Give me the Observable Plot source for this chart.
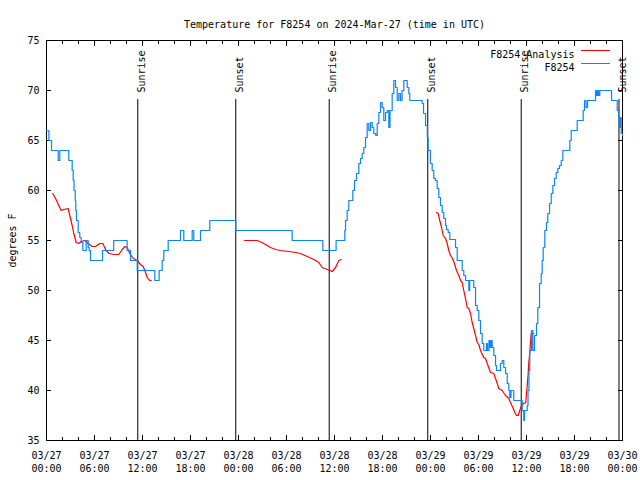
<!DOCTYPE html>
<html><head><meta charset="utf-8">
<script src="https://cdn.jsdelivr.net/npm/d3@7"></script>
<script src="https://cdn.jsdelivr.net/npm/@observablehq/plot@0.6"></script>
<style>body{margin:0;background:#fff}</style>
</head><body><div id="chart"></div>
<script>
const title = "Temperature for F8254 on 2024-Mar-27 (time in UTC)";
const yLabel = "degrees F";
const startUTC = "2024-03-27T00:00:00Z";
const seriesNames = ["F8254 Analysis", "F8254"];
const yTicks = [35, 40, 45, 50, 55, 60, 65, 70, 75];

// F8254 observations: hours after start, degrees F
const obsHours = [0.00,0.30,0.63,1.46,1.66,2.79,3.21,3.34,3.44,3.59,3.66,3.75,3.96,4.16,4.34,4.54,4.96,5.21,5.34,5.50,
  7.00,8.40,10.08,10.50,11.34,13.54,14.08,14.46,14.66,15.21,16.75,17.16,18.21,18.41,19.25,20.41,23.66,30.71,34.54,36.20,
  37.29,37.38,37.58,37.79,38.29,38.50,38.75,39.04,39.25,39.46,39.66,39.88,40.09,40.29,40.50,40.71,40.91,41.16,41.34,41.54,
  41.75,41.96,42.16,42.38,42.59,42.79,42.94,43.21,43.41,43.63,43.84,44.04,44.25,44.44,44.66,45.09,45.29,45.41,46.96,47.13,
  47.38,47.60,47.70,47.99,48.21,48.41,48.63,48.84,49.04,49.25,49.46,49.66,49.88,50.00,50.21,50.41,51.13,51.34,51.96,52.16,
  52.38,52.79,52.90,53.41,53.63,53.84,54.04,54.25,54.46,54.66,55.00,55.13,55.31,55.44,55.56,55.71,55.91,56.13,56.25,56.75,
  56.96,57.16,57.38,57.59,57.79,57.91,58.06,58.41,59.46,59.66,59.75,60.09,60.19,60.31,60.41,60.63,60.79,61.00,61.25,61.41,
  61.63,61.84,61.96,62.09,62.29,62.50,62.66,62.88,63.09,63.29,63.50,63.71,63.91,64.13,64.34,64.54,65.41,65.59,66.34,67.09,
  67.25,67.44,67.63,68.63,68.75,68.88,69.00,69.16,70.63,71.34,71.54,71.63,71.75,71.84,72.00];
const obsTemps = [66,65,64,63,64,63,62,61,60,59,58,57,55.8,55.3,54.8,54,55,54.3,54,53,
  54,55,54,53,52,51,52,53,54,55,56,55,56,55,56,57,56,55,54,55,
  56,57,58,59,60,61,61.7,62.7,63.2,63.7,64.3,65.3,66.7,66,66.8,66.3,65.7,65.5,66.7,67.8,
  68.8,68.3,67,67.8,68,66.3,68,69.7,71,70.3,69,69.7,69,70,71,70.3,69.7,69,68.7,67.7,
  66.5,65.3,64,62.7,62,61.2,61,60.2,59.3,58.5,57.8,57.2,56.5,56.1,55.8,55.1,54.3,53,52,51.5,
  51,50,51,50.3,48.5,48,47,45.7,44.7,44,44.7,44,45,44.3,45,44.3,43.5,42.5,42,42.7,
  43,42.3,41.7,40.7,40,39.3,40,39,38,37,38,38.5,40,42,44,46,44,45.5,46.7,48.3,
  50.7,51.7,53,54.3,56,56.8,57.7,58.7,59.7,60.5,61.2,61.8,62.2,62.5,63,64,65,66,67,68,
  69,68.3,69,70,69.5,70,69.5,70,69,68,67.2,66.3,67.3,65.7,65.5];

// F8254 Analysis: hours after start, degrees F (null = gap)
const anaHours = [0.79,1.13,1.54,1.84,2.16,2.71,2.91,3.21,3.41,3.71,4.04,4.34,4.79,5.21,5.71,6.13,6.66,7.04,7.38,7.79,
  8.41,9.04,9.46,9.79,10.09,10.41,10.84,11.34,11.75,12.09,12.38,12.59,12.88,13.09,18.00,
  24.75,26.34,27.16,28.00,28.63,29.25,30.29,31.13,31.75,32.59,33.41,34.04,34.46,35.09,35.71,36.13,36.54,36.84,42.00,
  48.75,48.96,49.16,49.38,49.59,49.88,50.09,50.29,50.50,50.75,51.00,51.25,51.54,51.75,51.96,52.16,52.38,52.59,52.79,53.00,
  53.21,53.41,53.63,53.84,54.04,54.25,54.66,54.88,55.09,55.50,55.91,56.13,56.34,56.54,56.96,57.38,57.79,58.00,58.29,58.54,
  58.75,58.96,59.16,59.38,59.66,59.91,60.09,60.21,60.29,60.41,60.59,60.91];
const anaTemps = [59.7,59.2,58.5,58,58.1,58.2,57.5,56.5,55.7,54.8,54.7,54.9,55,54.7,54.4,54.4,54.7,54.7,54.1,53.7,
  53.6,53.6,54.1,54.4,54.3,53.7,53.2,53,52.6,52.4,51.8,51.3,51,51,null,
  55,55,54.7,54.3,54.1,54,53.9,53.8,53.7,53.4,53.1,52.8,52.3,52.1,51.9,52.3,53,53.1,null,
  57.8,57.7,57,56.3,55.5,55.2,54.7,54,53.5,53.2,52.7,52,51.5,51,50.8,50,49.2,48.3,48.2,47.7,
  46.8,46.2,45.5,44.8,44.6,44,43.3,43.2,42.7,41.8,41.7,41.2,40.7,40.2,40,39.5,39.2,38.8,38.3,37.8,
  37.5,37.5,38,38.5,38.7,38.8,40.5,41.7,42.8,43.8,45.7,45.7];

const sunHours = [11.41, 23.66, 35.34, 47.66, 59.34, 71.56];
const sunLabels = ["Sunrise", "Sunset", "Sunrise", "Sunset", "Sunrise", "Sunset"];

const RED = "#ff0000", BLUE = "#0a84ff";
const t0 = Date.parse(startUTC);
const toDate = h => new Date(t0 + h * 3600e3);
const obs = obsHours.map((h, i) => ({time: toDate(h), temp: obsTemps[i]}));
const ana = anaHours.map((h, i) => ({time: toDate(h), temp: anaTemps[i]}));
const sun = sunHours.map((h, i) => ({time: toDate(h), label: sunLabels[i]}));
const legendColors = [RED, BLUE];

const lineShape = {draw(ctx, l) { ctx.moveTo(0, 0); ctx.lineTo(0, -l); }};
const legendMarks = seriesNames.flatMap((name, i) => [
  Plot.text([name], {frameAnchor: "top-right", dx: -48, dy: 10 + 13 * i, textAnchor: "end", fill: "#000"}),
  Plot.vector([name], {frameAnchor: "top-right", dx: -41, dy: 10 + 13 * i, length: 28, rotate: 90, anchor: "start", shape: lineShape, stroke: legendColors[i], strokeWidth: 1})
]);

const chart = Plot.plot({
  width: 640, height: 480,
  marginLeft: 46, marginRight: 18, marginTop: 40, marginBottom: 40,
  style: {fontFamily: "'DejaVu Sans Mono', monospace", fontSize: "10px", background: "#fff", color: "#000", overflow: "visible"},
  x: {type: "utc", domain: [toDate(0), toDate(72)], label: null},
  y: {domain: [35, 75], label: null},
  marks: [
    Plot.axisX({ticks: d3.utcHour.every(6), tickFormat: d3.utcFormat("%m/%d\n%H:%M"), tickSize: 0, tickPadding: 9, lineHeight: 1.3, label: null}),
    Plot.axisX({ticks: d3.utcHour.every(2), tickFormat: () => "", tickSize: -3, anchor: "bottom", label: null}),
    Plot.axisX({ticks: d3.utcHour.every(2), tickFormat: () => "", tickSize: -3, anchor: "top", label: null}),
    Plot.axisX({ticks: d3.utcHour.every(6), tickFormat: () => "", tickSize: -5, anchor: "bottom", label: null}),
    Plot.axisX({ticks: d3.utcHour.every(6), tickFormat: () => "", tickSize: -5, anchor: "top", label: null}),
    Plot.axisY({ticks: yTicks, tickSize: 0, tickPadding: 7, label: yLabel, labelAnchor: "center", labelArrow: "none", labelOffset: 38}),
    Plot.axisY({ticks: yTicks, tickFormat: () => "", tickSize: -5, anchor: "left", label: null}),
    Plot.axisY({ticks: yTicks, tickFormat: () => "", tickSize: -5, anchor: "right", label: null}),
    Plot.frame({stroke: "#000"}),
    Plot.ruleX(sun, {x: "time", insetTop: 59, stroke: "#000", strokeWidth: 1}),
    Plot.text(sun, {x: "time", text: "label", frameAnchor: "top", dy: 52, rotate: -90, textAnchor: "start", fill: "#000"}),
    Plot.line(ana, {x: "time", y: "temp", stroke: RED, strokeWidth: 1.2}),
    Plot.line(obs, {x: "time", y: "temp", curve: "step-after", stroke: BLUE, strokeWidth: 1.2}),
    ...legendMarks,
    Plot.text([title], {frameAnchor: "top", dy: -20, fill: "#000"})
  ]
});
document.getElementById("chart").appendChild(chart);
</script>
</body></html>
